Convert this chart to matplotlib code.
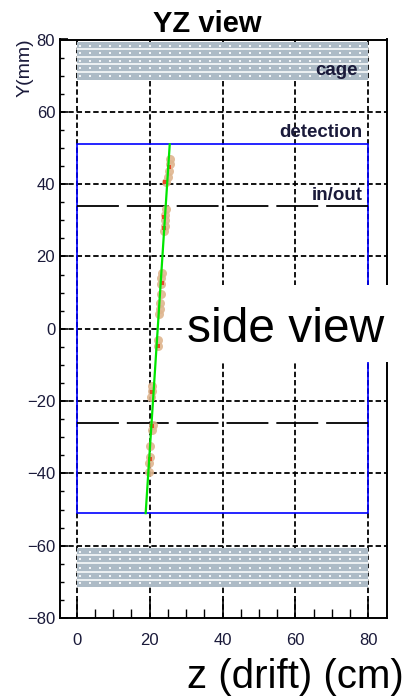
import numpy as np
import matplotlib
matplotlib.use("Agg")
import matplotlib.pyplot as plt
from matplotlib.patches import Rectangle

plt.rcParams['font.family'] = ['Liberation Sans', 'DejaVu Sans']

# ---- data ----
x_ticks = [0, 20, 40, 60, 80]
y_ticks = [-80, -60, -40, -20, 0, 20, 40, 60, 80]
detection_z = [0, 80]
detection_y = [-51, 51]
inout_y = [34, -26]
cage_top = [68.8, 79.3]
cage_bottom = [-71.4, -60.7]
cage_top_lines = [71.0, 73.1, 75.2, 77.3]
cage_bottom_lines = [-69.5, -67.2, -64.9, -62.6]
track_z = [25.5, 18.9]
track_y = [51, -51]
hit_z = [25.6, 25.5, 25.2, 24.9, 24.6, 24.4, 24.3, 24.2, 24.1, 24.0,
         23.3, 23.2, 23.1, 23.2, 22.8, 22.7, 22.6, 22.4, 22.3,
         20.6, 20.5, 20.4, 20.8, 20.7, 20.1, 20.0, 19.9, 19.8]
hit_y = [47, 45.5, 43.5, 42, 40.5, 33, 31.5, 30, 28.5, 27,
         15.5, 14, 12.5, 9.5, 7, 5.5, 4.2, -3, -4.8,
         -15.8, -17.3, -19, -26.5, -28, -32.5, -35.5, -37, -39.5]
red_z = [25.4, 24.2, 24.0, 23.9, 23.4, 22.4, 20.6, 20.6, 20.0]
red_y = [44.8, 40.7, 31.0, 28.0, 12.7, -4.9, -17.5, -27.0, -36.0]

W, H = 408, 697
fig = plt.figure(figsize=(W / 100, H / 100), dpi=100)
ax = fig.add_axes([60 / W, 1 - 618 / H, (387 - 60) / W, (618 - 39.5) / H])
ax.set_xlim(-4.6, 85.1)
ax.set_ylim(-80, 80)

# grid
for xv in x_ticks:
    ax.axvline(xv, color='black', lw=1.3, ls=(0, (3, 1.6)), zorder=1)
for yv in y_ticks[1:-1]:
    ax.axhline(yv, color='black', lw=1.3, ls=(0, (3, 1.6)), zorder=1)

# cage bands
cage_col = '#adbbc6'
dot_x = np.arange(0.8, 80, 2.75)
for (y0, y1), lines in [(cage_top, cage_top_lines), (cage_bottom, cage_bottom_lines)]:
    ax.add_patch(Rectangle((0, y0), 80, y1 - y0, facecolor=cage_col,
                           edgecolor='none', zorder=2))
    for ly in lines:
        ax.plot([0, 80], [ly, ly], color='white', lw=1.1, zorder=3)
    bounds = [y0] + lines + [y1]
    for a, b in zip(bounds[:-1], bounds[1:]):
        yy = np.full_like(dot_x, (a + b) / 2)
        ax.scatter(dot_x, yy, s=1.3, marker='s', color='white', lw=0,
                   alpha=0.85, zorder=3)

# detection box
ax.add_patch(Rectangle((detection_z[0], detection_y[0]),
                       detection_z[1] - detection_z[0],
                       detection_y[1] - detection_y[0],
                       facecolor='none', edgecolor='#0000ff', lw=1.2, zorder=4))

# in/out lines
for yv in inout_y:
    ax.plot([0, 80], [yv, yv], color='black', lw=1.3,
            ls=(0, (23.2, 4.4)), zorder=4)

# hits
ax.scatter(hit_z, hit_y, s=42, marker='o', color='#dfb58e', lw=0,
           alpha=0.9, zorder=5)
ax.scatter(red_z, red_y, s=6, marker='s', color='#e8482a', lw=0, zorder=6)

# track
ax.plot(track_z, track_y, color='#00e600', lw=1.6, zorder=7)

# labels inside
txt_col = '#1a1a3a'
ax.text(77, 70.2, 'cage', ha='right', va='baseline', fontsize=13.5,
        fontweight='bold', color=txt_col, zorder=8)
ax.text(78.4, 53.1, 'detection', ha='right', va='baseline', fontsize=13.5,
        fontweight='bold', color=txt_col, zorder=8)
ax.text(78.4, 35.6, 'in/out', ha='right', va='baseline', fontsize=13.5,
        fontweight='bold', color=txt_col, zorder=8)

# axes styling
for s in ax.spines.values():
    s.set_linewidth(1.4)
    s.set_color('black')
ax.set_xticks(x_ticks)
ax.set_yticks(y_ticks)
ax.set_xticks(np.arange(0, 81, 5), minor=True)
ax.set_yticks(np.arange(-80, 81, 5), minor=True)
ax.tick_params(axis='x', which='major', direction='in', length=14, width=1.2,
               labelsize=12, pad=11, labelcolor=txt_col, top=False)
ax.tick_params(axis='x', which='minor', direction='in', length=6.5, width=1.0, top=False)
ax.tick_params(axis='y', which='major', direction='in', length=6, width=1.2,
               labelsize=12, pad=3.5, labelcolor=txt_col, right=False)
ax.tick_params(axis='y', which='minor', direction='in', length=3, width=1.0, right=False)

# side view box over axes
ax.add_patch(Rectangle((183 / W, 1 - 362 / H), (394 - 183) / W, (362 - 285) / H,
                       transform=fig.transFigure, facecolor='white',
                       edgecolor='none', clip_on=False, zorder=20))
fig.text(285.5 / W, 1 - 341.7 / H, 'side view', ha='center', va='baseline',
         fontsize=34.5, color='black', zorder=30)

fig.text(207 / W, 1 - 31.7 / H, 'YZ view', ha='center', va='baseline',
         fontsize=21, fontweight='bold', color='black')
fig.text(25 / W, 1 - 38 / H, 'Y(mm)', rotation=90, ha='center', va='top',
         fontsize=14, color=txt_col)
fig.text(187 / W, 1 - 688 / H, 'z (drift) (cm)', ha='left', va='baseline',
         fontsize=29, color='black')

fig.savefig('out.png', dpi=100)
